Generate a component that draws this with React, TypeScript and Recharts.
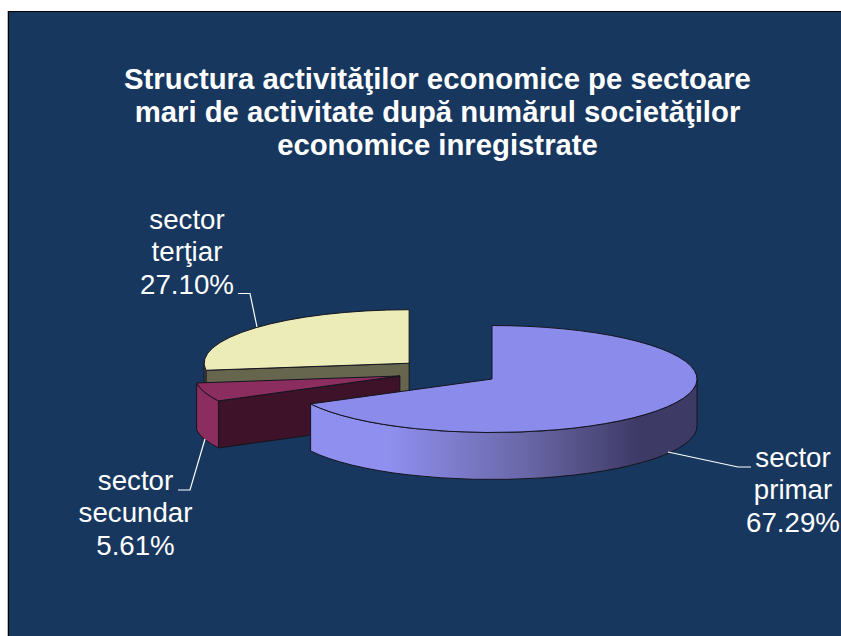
import { PieChart, Pie } from "recharts"

const categories = ["sector terţiar", "sector secundar", "sector primar"]
const shares = [27.1, 5.61, 67.29]
const titleLines = [
  "Structura activităţilor economice pe sectoare",
  "mari de activitate după numărul societăţilor",
  "economice inregistrate",
]

const topColors = ["#ECECB8", "#8C2D5F", "#8B8BEC"]
const wallColors = ["#66664F", "#3E1228", "#8B8BEC"]
const sideColors = ["#66664F", "#8C2D5F", "url(#primaryWall)"]

const tableData = categories.map((name, i) => ({ name, value: shares[i], index: i }))

// label anchors and leader lines, same order as categories
const labelX = [187, 135.5, 793]
const labelY = [229, 490, 467]
const leaders = [
  "238,293.5 250,293.5 257,327",
  "178,490 190,490 205,439",
  "751,467 738,467 668,452",
]
const explode = [51, 50, 52]

const TILT = 0.261
const DEPTH = 47
const RAD = Math.PI / 180

function WedgeShape(props: any) {
  const { cx, cy, outerRadius, startAngle, endAngle, index } = props
  const lo = Math.min(startAngle, endAngle)
  const hi = Math.max(startAngle, endAngle)
  const mid = ((lo + hi) / 2) * RAD
  const rx = outerRadius
  const ry = outerRadius * TILT
  const ox = cx + explode[index] * Math.cos(mid)
  const oy = cy - explode[index] * TILT * Math.sin(mid)
  const px = (a: number) => ox + rx * Math.cos(a * RAD)
  const py = (a: number) => oy - ry * Math.sin(a * RAD)
  const arc = (from: number, to: number, sweep: number) =>
    `A${rx} ${ry} 0 ${Math.abs(to - from) > 180 ? 1 : 0} ${sweep} ${px(to)} ${py(to)}`

  const outline = { stroke: "#14141e", strokeWidth: 1, strokeLinejoin: "round" as const }
  const radialAngle = Math.cos(hi * RAD) < -0.001 ? hi : Math.cos(lo * RAD) > 0.001 ? lo : null
  const from = Math.max(lo, 180)
  const to = Math.min(hi, 360)

  return (
    <g>
      {radialAngle !== null && (
        <path
          d={`M${ox} ${oy}L${px(radialAngle)} ${py(radialAngle)}L${px(radialAngle)} ${py(radialAngle) + DEPTH}L${ox} ${oy + DEPTH}Z`}
          fill={wallColors[index]}
          {...outline}
        />
      )}
      {to > from && (
        <path
          d={`M${px(from)} ${py(from)}${arc(from, to, 0)}L${px(to)} ${py(to) + DEPTH}A${rx} ${ry} 0 ${to - from > 180 ? 1 : 0} 1 ${px(from)} ${py(from) + DEPTH}Z`}
          fill={sideColors[index]}
          {...outline}
        />
      )}
      <path
        d={`M${ox} ${oy}L${px(lo)} ${py(lo)}${arc(lo, hi, 0)}Z`}
        fill={topColors[index]}
        {...outline}
      />
    </g>
  )
}

function SliceLabel(props: any) {
  const { index, name, value } = props
  const words = name.split(" ")
  const lines = [words[0], words[1], `${value.toFixed(2)}%`]
  return (
    <g>
      <polyline points={leaders[index]} fill="none" stroke="#ffffff" strokeWidth={1.2} />
      <text
        x={labelX[index]}
        y={labelY[index]}
        textAnchor="middle"
        fill="#ffffff"
        fontFamily="Liberation Sans"
        fontSize={27.7}
      >
        {lines.map((line, i) => (
          <tspan key={i} x={labelX[index]} dy={i === 0 ? 0 : 32.4}>
            {line}
          </tspan>
        ))}
      </text>
    </g>
  )
}

export default function App() {
  return (
    <div style={{ position: "fixed", left: 0, top: 0, width: 841, height: 636, overflow: "hidden", background: "#fff" }}>
      <div
        style={{
          position: "absolute",
          left: 8,
          top: 11,
          width: 850,
          height: 640,
          background: "#17375E",
          border: "1px solid #000",
          boxShadow: "-1px 0 0 #bbbbbb",
        }}
      />
      <div style={{ position: "absolute", left: 0, top: 0 }}>
        <PieChart width={841} height={636} margin={{ top: 0, right: 0, bottom: 0, left: 0 }}>
          <defs>
            <linearGradient id="primaryWall" x1="0" y1="0" x2="1" y2="0">
              <stop offset="0.2" stopColor="#8F8FF0" />
              <stop offset="0.55" stopColor="#6A68A8" />
              <stop offset="0.85" stopColor="#3E3A66" />
            </linearGradient>
          </defs>
          {titleLines.map((line, i) => (
            <text
              key={i}
              x={437.5}
              y={88.5 + i * 33}
              textAnchor="middle"
              fill="#ffffff"
              fontFamily="Liberation Sans"
              fontWeight="bold"
              fontSize={29.3}
            >
              {line}
            </text>
          ))}
          <Pie
            data={tableData}
            dataKey="value"
            nameKey="name"
            cx={447.5}
            cy={372}
            innerRadius={0}
            outerRadius={205}
            startAngle={90}
            endAngle={450}
            stroke="none"
            shape={WedgeShape}
            label={SliceLabel}
            labelLine={false}
            isAnimationActive={false}
          />
        </PieChart>
      </div>
    </div>
  )
}
